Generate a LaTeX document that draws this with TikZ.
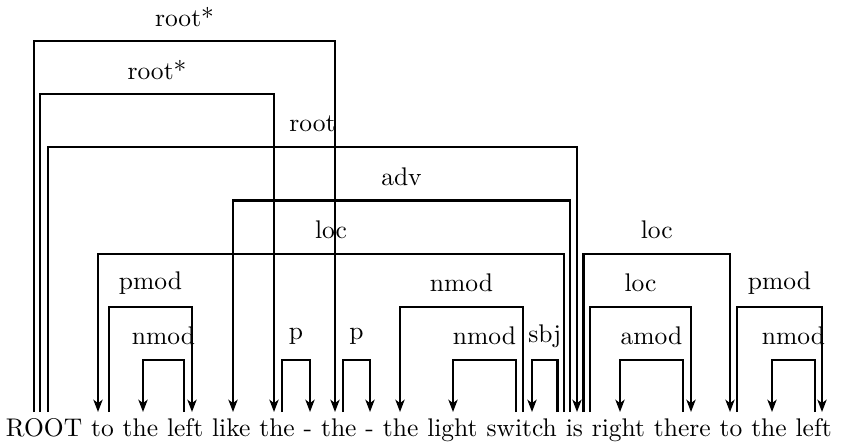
\documentclass[tikz,border=0pt]{standalone}
\usetikzlibrary{positioning,arrows.meta}
\begin{document}
\begin{tikzpicture}[x=0.392pt,y=-0.392pt,
  word/.style={anchor=base west,inner sep=0pt,outer sep=0pt,font=\fontsize{10}{12}\selectfont},
  nextword/.style={word,base right=3.5pt of #1},
  lbl/.style={anchor=center,inner sep=0pt,yshift=9.4pt,font=\fontsize{10}{12}\selectfont},
  dep/.style={line width=0.9pt,-{Stealth[length=4.8pt,width=3.6pt,inset=1.3pt]},line cap=butt},
]
\useasboundingbox (0,0) rectangle (843,445);
% words
\node[word] (w0) at (6,436) {ROOT};
\node[nextword=w0]  (w1)  {to};
\node[nextword=w1]  (w2)  {the};
\node[nextword=w2]  (w3)  {left};
\node[nextword=w3]  (w4)  {like};
\node[nextword=w4]  (w5)  {the};
\node[nextword=w5]  (w6)  {-};
\node[nextword=w6]  (w7)  {the};
\node[nextword=w7]  (w8)  {-};
\node[nextword=w8]  (w9)  {the};
\node[nextword=w9]  (w10) {light};
\node[nextword=w10] (w11) {switch};
\node[nextword=w11] (w12) {is};
\node[nextword=w12] (w13) {right};
\node[nextword=w13] (w14) {there};
\node[nextword=w14] (w15) {to};
\node[nextword=w15] (w16) {the};
\node[nextword=w16] (w17) {left};
% arc end points
\foreach \n/\x in {a1s/34,a1e/335,a2s/40,a2e/274,a3s/48,a3e/577,
  a4s/570,a4e/233,a5s/564,a5e/98,a6s/583.5,a6e/730,a7s/109,a7e/192,
  a8s/184,a8e/143,a9s/282,a9e/310,a10s/343,a10e/370,a11s/523,a11e/400,
  a12s/516,a12e/453,a13s/557.5,a13e/532,a14s/590,a14e/691,a15s/683,a15e/620,
  a16s/737,a16e/822,a17s/815,a17e/772}
  {\coordinate (\n) at (\x,412);}
% arcs: name / rise / label
\foreach \a/\h/\t in {a1/371.2/root*,a2/317.9/root*,a3/264.7/root,
  a4/211.5/adv,a5/158.3/loc,a6/158.3/loc,a7/105.1/pmod,a14/105.1/loc,
  a11/105.1/nmod,a16/105.1/pmod,a8/51.9/nmod,a9/51.9/p,a10/51.9/p,
  a12/51.9/nmod,a13/51.9/sbj,a15/51.9/amod,a17/51.9/nmod}
  {\draw[dep] (\a s) -- ++(0,-\h) -| node[lbl,pos=0.25]{\t} (\a e);}
\end{tikzpicture}
\end{document}
